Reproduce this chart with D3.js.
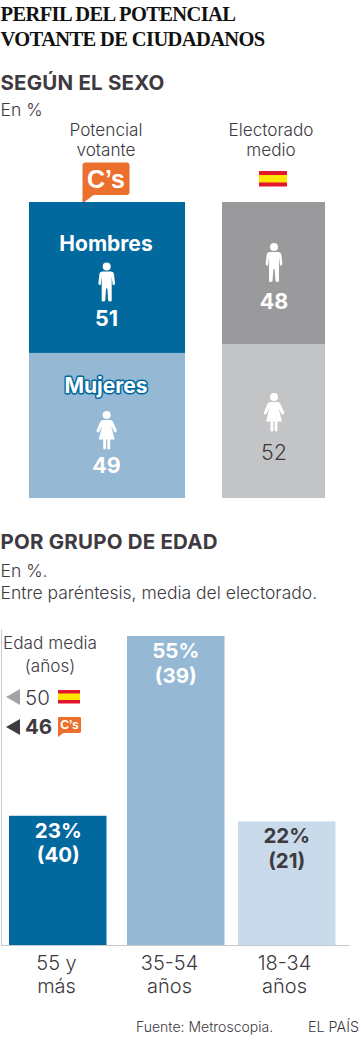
<!DOCTYPE html>
<html>
<head>
<meta charset="utf-8">
<script src="https://cdn.jsdelivr.net/npm/d3@7"></script>
<style>
  body { margin: 0; background: #fff; }
  svg { display: block; }
  text { font-family: "Inter", sans-serif; fill: #3e3a3f; }
</style>
</head>
<body>
<div id="chart"></div>
<script>
const sexGroups = ["Mujeres", "Hombres"];
const potentialValues = [49, 51];
const electorateValues = [52, 48];

const ageGroups = ["55 y más", "35-54 años", "18-34 años"];
const ageValues = [23, 55, 22];
const ageElectorate = [40, 39, 21];

const meanAgeSpain = 50;
const meanAgeCs = 46;

const blue = "#02699f";
const midBlue = "#95b8d4";
const paleBlue = "#c9dbea";
const ink = "#3e3a3f";

const svg = d3.select("#chart").append("svg")
  .attr("width", 360)
  .attr("height", 1038);

function label(x, y, str, size, opts = {}) {
  return svg.append("text")
    .attr("x", x)
    .attr("y", y)
    .attr("text-anchor", opts.anchor || "start")
    .attr("font-size", size)
    .attr("font-weight", opts.weight || 300)
    .attr("letter-spacing", opts.spacing || 0)
    .style("fill", opts.fill || ink)
    .text(str);
}

// titles
[["PERFIL DEL POTENCIAL", 21], ["VOTANTE DE CIUDADANOS", 46]].forEach(([t, y]) => {
  label(0.5, y, t, 20.5, { weight: 700, fill: "#111", spacing: -0.62 })
    .style("font-family", '"Liberation Serif", serif');
});
label(0.5, 90, "SEGÚN EL SEXO", 20.5, { weight: 700, spacing: 0.2 });
label(0.5, 116, "En %", 17.5);
label(106, 136, "Potencial", 17.2, { anchor: "middle" });
label(106, 156, "votante", 17.2, { anchor: "middle" });
label(271, 136, "Electorado", 17.2, { anchor: "middle" });
label(271, 156, "medio", 17.2, { anchor: "middle" });

function csBadge(x, y, k) {
  const g = svg.append("g").attr("transform", `translate(${x},${y}) scale(${k})`);
  g.append("path")
    .attr("d", "M3,0H44a3,3 0 0 1 3,3V29.5a3,3 0 0 1 -3,3H11L0,41V3a3,3 0 0 1 3,-3Z")
    .attr("fill", "#ec6f2d");
  g.append("text")
    .attr("x", 23.5)
    .attr("y", 25)
    .attr("text-anchor", "middle")
    .attr("font-size", 25)
    .attr("font-weight", 700)
    .style("font-family", '"Liberation Sans", sans-serif')
    .style("fill", "#fff")
    .text("C’s");
}

function flag(x, y, w, h) {
  const g = svg.append("g").attr("transform", `translate(${x},${y})`);
  g.append("rect").attr("width", w).attr("height", h).attr("fill", "#e2172d");
  g.append("rect").attr("y", h * 0.26).attr("width", w).attr("height", h * 0.48).attr("fill", "#ffe600");
}

csBadge(82.5, 162.5, 1);
flag(259, 171, 28, 15.5);

// stacked bars, one y scale shared by both columns
const yShare = d3.scaleLinear().domain([0, 100]).range([498, 202]);

function stackColumn(values, x0, x1, colors) {
  let acc = 0;
  values.forEach((v, i) => {
    svg.append("rect")
      .attr("x", x0)
      .attr("width", x1 - x0)
      .attr("y", yShare(acc + v))
      .attr("height", yShare(acc) - yShare(acc + v))
      .attr("fill", colors[i]);
    acc += v;
  });
}
stackColumn(potentialValues, 29, 185, [midBlue, blue]);
stackColumn(electorateValues, 222, 325, ["#c3c4c6", "#9a9a9c"]);

const manPath = "M-4.5,5H4.5Q7,5 7.3,7.5L8.3,16.5Q8.4,18.5 7,18.5L6,18.5L5,10V34Q5,35 3.6,35Q1.6,35 1.4,33.5L0.6,22H-0.6L-1.4,33.5Q-1.6,35 -3.6,35Q-5,35 -5,34V10L-6,18.5H-7Q-8.4,18.5 -8.3,16.5L-7.3,7.5Q-7,5 -4.5,5Z";
const womanPath = "M-3.5,5H3.5Q5.5,5 6.5,7L10,15Q10.5,17 9,17.5Q8,17.8 7.3,16.5L4.5,11L8,24.5H3.5V33Q3.5,34.5 2,34.5Q0.8,34.5 0.6,33V24.5H-0.6V33Q-0.8,34.5 -2,34.5Q-3.5,34.5 -3.5,33V24.5H-8L-4.5,11L-7.3,16.5Q-8,17.8 -9,17.5Q-10.5,17 -10,15L-6.5,7Q-5.5,5 -3.5,5Z";

function person(cx, headY, d) {
  const g = svg.append("g").attr("transform", `translate(${cx},${headY})`).attr("fill", "#fff");
  g.append("circle").attr("r", 4);
  g.append("path").attr("d", d);
}
person(106.7, 266.5, manPath);
person(106.7, 415, womanPath);
person(274, 247, manPath);
person(274, 397, womanPath);

label(106, 250.5, sexGroups[1], 21, { anchor: "middle", weight: 700, fill: "#fff" });
label(106, 392.5, sexGroups[0], 21, { anchor: "middle", weight: 700, fill: "#fff" })
  .attr("stroke", blue)
  .attr("stroke-width", 3)
  .attr("stroke-linejoin", "round")
  .attr("paint-order", "stroke");
label(106.5, 326, potentialValues[1], 21.5, { anchor: "middle", weight: 700, fill: "#fff" });
label(106.5, 473, potentialValues[0], 21.5, { anchor: "middle", weight: 700, fill: "#fff" });
label(274, 308.5, electorateValues[1], 21.5, { anchor: "middle", weight: 700, fill: "#fff" });
label(274, 460, electorateValues[0], 21.5, { anchor: "middle" });

// age section
label(0.5, 549, "POR GRUPO DE EDAD", 20.5, { weight: 700, spacing: 0.2 });
label(0.5, 577, "En %.", 17.5);
label(0.5, 599, "Entre paréntesis, media del electorado.", 17.5);

const yAge = d3.scaleLinear().domain([0, 55]).range([945, 636]);
const xAge = d3.scaleOrdinal().domain(ageGroups).range([9, 127, 238]);
const xTick = d3.scaleOrdinal().domain(ageGroups).range([56, 169, 284]);
const barW = 97.5;
const ageColors = [blue, midBlue, paleBlue];

svg.selectAll(".age-bar")
  .data(ageGroups)
  .join("rect")
  .attr("class", "age-bar")
  .attr("x", (d) => xAge(d))
  .attr("y", (d, i) => yAge(ageValues[i]))
  .attr("width", barW)
  .attr("height", (d, i) => yAge(0) - yAge(ageValues[i]))
  .attr("fill", (d, i) => ageColors[i]);

// frame on the left and the baseline
svg.append("line").attr("x1", 1.5).attr("x2", 1.5).attr("y1", 630).attr("y2", 945.5).attr("stroke", "#c9c9cb");
svg.append("line").attr("x1", 1).attr("x2", 350).attr("y1", 945.5).attr("y2", 945.5).attr("stroke", "#c9c9cb");

const axis = svg.append("g")
  .attr("transform", "translate(0,945)")
  .call(d3.axisBottom(xTick).tickSize(0));
axis.select(".domain").remove();
axis.selectAll(".tick text").each(function (d) {
  const parts = d.split(/ (?=\S+$)/);
  const t = d3.select(this).text(null).attr("y", 0).attr("dy", null).attr("font-size", 20).attr("font-weight", 300);
  parts.forEach((p, i) => {
    t.append("tspan").attr("x", 0).attr("y", 25 + i * 23).text(p);
  });
}).style("font-family", '"Inter", sans-serif').style("fill", ink);

ageGroups.forEach((g, i) => {
  const cx = xAge(g) + barW / 2 + (i === 0 ? 0.5 : 0);
  const top = yAge(ageValues[i]) + 22;
  const fill = i === 2 ? ink : "#fff";
  label(cx, top, `${ageValues[i]}%`, 20.5, { anchor: "middle", weight: 700, fill });
  label(cx, top + 24.5, `(${ageElectorate[i]})`, 20.5, { anchor: "middle", weight: 700, fill });
});

// mean age key
label(3, 649, "Edad media", 17.2);
label(50, 672, "(años)", 17.2, { anchor: "middle" });
svg.append("path").attr("d", "M6,697L20,689V705Z").attr("fill", "#a3a3a5");
label(25, 705, meanAgeSpain, 20.5);
flag(58, 690, 22, 13.5);
svg.append("path").attr("d", "M6,727L20,719V735Z").attr("fill", ink);
label(25, 734, meanAgeCs, 20.5, { weight: 700 });
csBadge(58, 717, 0.49);

// footer
label(136, 1032, "Fuente: Metroscopia.", 14);
label(308, 1032, "EL PAÍS", 14.3);
</script>
</body>
</html>
